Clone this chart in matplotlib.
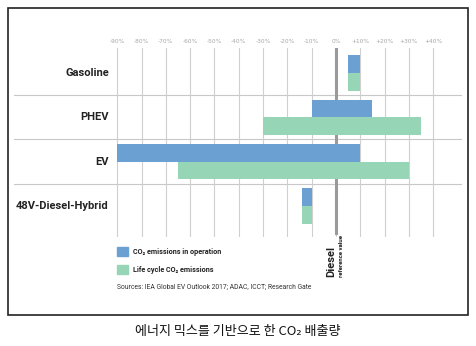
import numpy as np
import matplotlib
matplotlib.use('Agg')
import matplotlib.pyplot as plt
from matplotlib.patches import Rectangle

# data (percent change vs. diesel reference)
categories = ['Gasoline', 'PHEV', 'EV', '48V-Diesel-Hybrid']
operation_lo = [5, -10, -90, -14]
operation_hi = [10, 15, 10, -10]
lifecycle_lo = [5, -30, -65, -14]
lifecycle_hi = [10, 35, 30, -10]
tick_values = [-90, -80, -70, -60, -50, -40, -30, -20, -10, 0, 10, 20, 30, 40]
tick_labels = ['-90%', '-80%', '-70%', '-60%', '-50%', '-40%', '-30%', '-20%',
               '-10%', '0%', '+10%', '+20%', '+30%', '+40%']

BLUE = '#6aa1d2'
GREEN = '#96d5b5'
W, H = 477, 346

fig = plt.figure(figsize=(W / 100, H / 100), dpi=100)
fig.patch.set_facecolor('white')

# outer frame
fig.patches.append(Rectangle((8 / W, 1 - 315 / H), 460 / W, 307 / H,
                             transform=fig.transFigure, fill=False,
                             edgecolor='#222222', linewidth=1.2))

ax = fig.add_axes([14 / W, 1 - 237 / H, 448 / W, 189 / H])
ax.set_xlim(-132.5, 51.85)
ax.set_ylim(3.70, -0.564)
for s in ax.spines.values():
    s.set_visible(False)

y = np.arange(len(categories))
h = 0.4
lo_op = np.array(operation_lo)
lo_lc = np.array(lifecycle_lo)
ax.barh(y - h / 2, np.array(operation_hi) - lo_op, left=lo_op, height=h,
        color=BLUE, zorder=3)
ax.barh(y + h / 2, np.array(lifecycle_hi) - lo_lc, left=lo_lc, height=h,
        color=GREEN, zorder=3)

# grid + ticks on top
ax.set_xticks(tick_values)
ax.set_xticklabels(tick_labels)
ax.xaxis.tick_top()
ax.tick_params(axis='x', length=0, pad=3, labelsize=4.2, labelcolor='#a8a8a8')
ax.set_yticks([])
ax.grid(axis='x', color='#cfcfcf', linewidth=0.8, zorder=0)

# separators between categories
for sep in y[:-1] + 0.5:
    ax.axhline(sep, color='#c8c8c8', linewidth=0.8, zorder=1)

# diesel reference line (behind the bars)
ax.axvline(0, ymin=4 / 189, ymax=1, color='#9a9a9a', linewidth=2.2, zorder=2)

# category labels
for i, name in enumerate(categories):
    ax.text(-93.5, i, name, ha='right', va='center', fontsize=8,
            fontweight='bold', family='Roboto', color='#222222')

# diesel label
fig.text(331 / W, 1 - 277 / H, 'Diesel', rotation=90, ha='center', va='bottom',
         fontsize=8, fontweight='bold', family='Roboto', color='#222222')
fig.text(342 / W, 1 - 277 / H, 'reference value', rotation=90, ha='center',
         va='bottom', fontsize=4.3, fontweight='bold', family='Roboto',
         color='#222222')

# legend
fig.patches.append(Rectangle((117 / W, 1 - 256 / H), 11 / W, 9 / H,
                             transform=fig.transFigure, color=BLUE))
fig.patches.append(Rectangle((117 / W, 1 - 274 / H), 11 / W, 9 / H,
                             transform=fig.transFigure, color=GREEN))
fig.text(133 / W, 1 - 252 / H, 'CO₂ emissions in operation', ha='left',
         va='center', fontsize=5.2, fontweight='bold', family='Roboto',
         color='#222222')
fig.text(133 / W, 1 - 270 / H, 'Life cycle CO₂ emissions', ha='left',
         va='center', fontsize=5.2, fontweight='bold', family='Roboto',
         color='#222222')
fig.text(117 / W, 1 - 287 / H,
         'Sources: IEA Global EV Outlook 2017; ADAC, ICCT; Research Gate',
         ha='left', va='center', fontsize=4.9, family='Roboto', color='#333333')

# caption
fig.text(238 / W, 1 - 332 / H, '에너지 믹스를 기반으로 한 CO₂ 배출량',
         ha='center', va='center', fontsize=9.4,
         family=['Noto Sans CJK KR', 'DejaVu Sans'], color='#111111')

fig.savefig('out.png', dpi=100)
